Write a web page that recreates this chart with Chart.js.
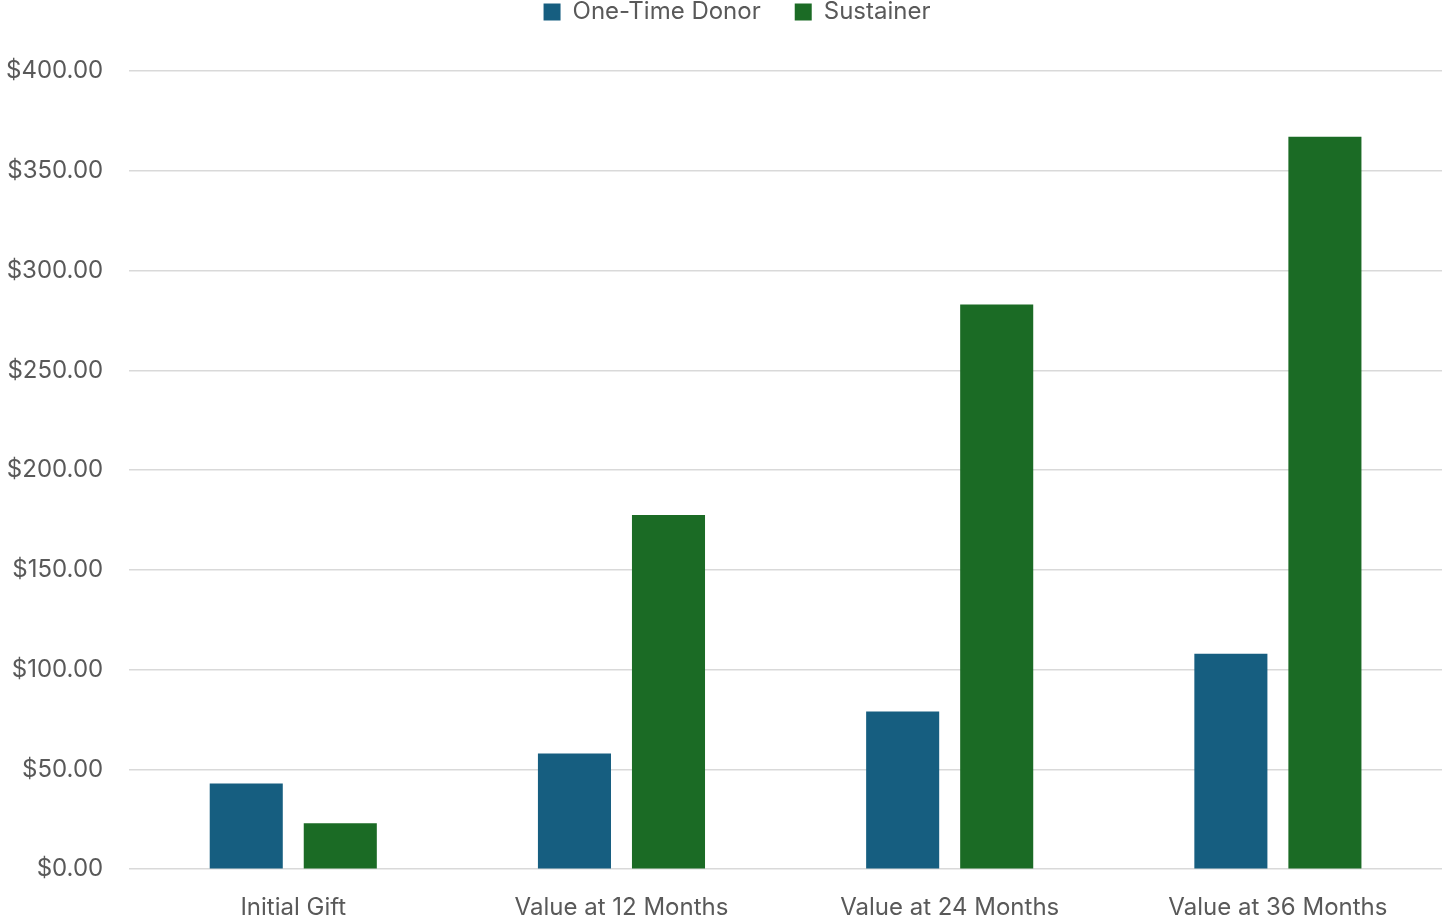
<!DOCTYPE html>
<html>
<head>
<meta charset="utf-8">
<script src="https://cdn.jsdelivr.net/npm/chart.js@4"></script>
<style>
  html, body { margin: 0; padding: 0; background: #fff; }
  #wrap { width: 1442px; height: 922px; }
</style>
</head>
<body>
<div id="wrap"><canvas id="donorChart"></canvas></div>
<script>
const categories = ['Initial Gift', 'Value at 12 Months', 'Value at 24 Months', 'Value at 36 Months'];
const oneTimeValues = [43, 58, 79, 108];
const sustainerValues = [23, 177.5, 283, 367];
const yMax = 400;
const yStep = 50;

// push the plot area down below the legend, and nudge the legend right
const legendGap = {
    id: 'legendGap',
    beforeInit(chart) {
        const origFit = chart.legend.fit;
        chart.legend.fit = function () {
            origFit.bind(chart.legend)();
            this.height += 37;
        };
    },
    afterLayout(chart) {
        chart.legend.left += 26;
        chart.legend.right += 26;
    }
};

Chart.defaults.font.family = 'Inter, "Open Sans", sans-serif';
Chart.defaults.color = '#595959';

new Chart(document.getElementById('donorChart'), {
    type: 'bar',
    data: {
        labels: categories,
        datasets: [{
            label: 'One-Time Donor',
            data: oneTimeValues,
            backgroundColor: '#165E80',
            categoryPercentage: 0.573,
            barPercentage: 0.777
        }, {
            label: 'Sustainer',
            data: sustainerValues,
            backgroundColor: '#1B6B25',
            categoryPercentage: 0.573,
            barPercentage: 0.777
        }]
    },
    options: {
        responsive: true,
        maintainAspectRatio: false,
        animation: false,
        layout: { padding: { left: -20, right: 0, top: -34, bottom: -16 } },
        plugins: {
            legend: {
                position: 'top',
                labels: {
                    font: { size: 24 },
                    boxWidth: 17,
                    boxHeight: 17,
                    padding: 34
                }
            },
            tooltip: { enabled: false }
        },
        scales: {
            x: {
                grid: { display: false },
                border: { display: false },
                ticks: { font: { size: 24 }, padding: 16 }
            },
            y: {
                min: 0,
                max: yMax,
                ticks: {
                    stepSize: yStep,
                    font: { size: 24 },
                    padding: 26,
                    callback: v => '$' + v.toFixed(2)
                },
                grid: { color: '#d9d9d9', lineWidth: 1.5, drawTicks: false },
                border: { display: false }
            }
        }
    },
    plugins: [legendGap]
});
</script>
</body>
</html>
